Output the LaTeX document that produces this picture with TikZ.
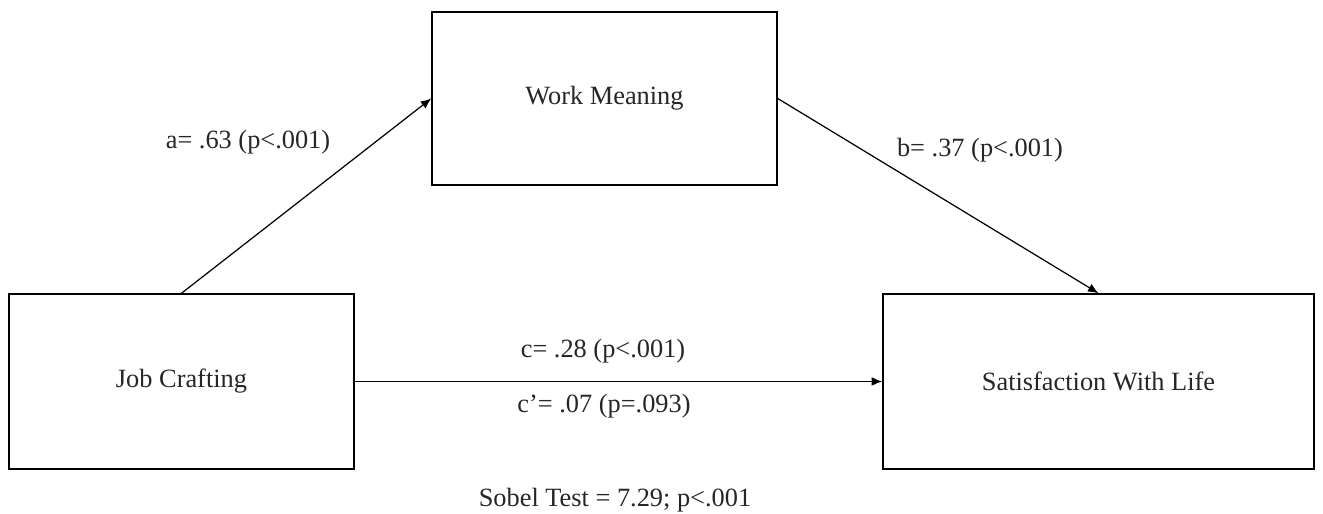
\documentclass[tikz,border=0pt]{standalone}
\usepackage{fontspec}
\setmainfont{Liberation Serif}
\usepackage{tikz}
\usetikzlibrary{calc,arrows.meta}

\tikzset{
	box/.style={draw, line width=0.85pt, inner sep=0pt},
	path/.style={line width=0.7pt, -{Latex[length=6pt,width=5pt]}},
	lbl/.style={font=\fontsize{15}{18}\selectfont, text=black!85}
}

\begin{document}
\begin{tikzpicture}[x=0.02cm, y=-0.02cm]
	% Frame
	\useasboundingbox (0,0) rectangle (1323,514);

	% Variables
	\node[box, lbl, minimum width=345*0.02cm, minimum height=173*0.02cm] (wm) at (604.5,98.5) {Work Meaning};
	\node[box, lbl, minimum width=345*0.02cm, minimum height=175*0.02cm] (jc) at (181.5,381.5) {Job Crafting};
	\node[box, lbl, minimum width=431*0.02cm, minimum height=175*0.02cm] (swl) at (1098.5,381.5) {Satisfaction With Life};

	% Paths
	\draw[path] (jc.north) -- (wm.west);
	\draw[path] (wm.east) -- (swl.north);
	\draw[path] (jc.east) -- (swl.west);

	% Coefficients
	\node[lbl] (a) at (248,142) {a= .63 (p<.001)};
	\node[lbl] (b) at (980,150) {b= .37 (p<.001)};
	\node[lbl] (c) at (603,351) {c= .28 (p<.001)};
	\node[lbl] (cp) at (604,406) {c’= .07 (p=.093)};

	% Sobel test
	\node[lbl] (sobel) at (615,500) {Sobel Test = 7.29; p<.001};
\end{tikzpicture}
\end{document}
